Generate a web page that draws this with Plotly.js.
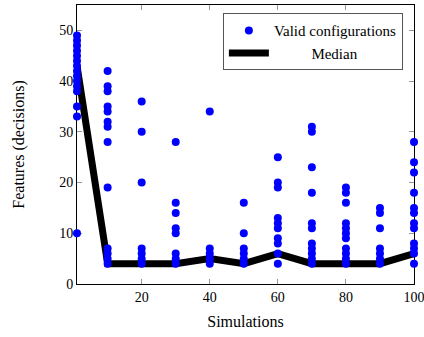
<!DOCTYPE html>
<html><head><meta charset="utf-8">
<script src="https://cdn.plot.ly/plotly-3.0.1.min.js"></script>
<style>body{margin:0;padding:0;background:#fff}#plot{width:424px;height:337px}</style>
</head><body><div id="plot"></div>
<script>
const simulations = [1, 10, 20, 30, 40, 50, 60, 70, 80, 90, 100];
const configValues = {
  1:   [10, 33, 35, 38, 39, 40, 41, 42, 43, 44, 45, 46, 47, 48, 49],
  10:  [4, 5, 6, 7, 19, 28, 31, 32, 34, 35, 38, 39, 42],
  20:  [4, 5, 6, 7, 20, 30, 36],
  30:  [4, 5, 6, 10, 11, 14, 16, 28],
  40:  [4, 5, 6, 7, 34],
  50:  [4, 5, 6, 7, 10, 16],
  60:  [4, 6, 8, 9, 11, 12, 13, 19, 20, 25],
  70:  [4, 5, 6, 7, 8, 11, 12, 18, 23, 30, 31],
  80:  [4, 5, 6, 7, 9, 10, 11, 12, 16, 18, 19],
  90:  [4, 5, 6, 7, 11, 14, 15],
  100: [4, 6, 7, 8, 11, 12, 14, 15, 18, 22, 24, 28]
};
const medianValues = [43, 4, 4, 4, 5, 4, 6, 4, 4, 4, 6];
const xTicks = [20, 40, 60, 80, 100];
const yTicks = [0, 10, 20, 30, 40, 50];

const px = [], py = [];
simulations.forEach(s => configValues[s].forEach(v => { px.push(s); py.push(v); }));

const font = 'Liberation Serif, Times New Roman, serif';
const pad = '\u00A0'.repeat(10);
const traces = [
  {x: simulations, y: medianValues, mode: 'lines', name: pad + 'Median',
   line: {color: '#000', width: 7}},
  {x: px, y: py, mode: 'markers', name: 'Valid configurations',
   marker: {color: '#0000FF', size: 8, opacity: 1, line: {width: 0}}, cliponaxis: false}
];
const axisCommon = {
  showgrid: false, zeroline: false, showline: true, linecolor: '#000', linewidth: 1,
  mirror: 'ticks', ticks: 'inside', ticklen: 5, tickcolor: '#999', tickwidth: 1,
  layer: 'below traces', ticklabeloverflow: 'allow',
  tickfont: {family: font, size: 14, color: '#000'}
};
const layout = {
  width: 424, height: 337,
  margin: {l: 77, r: 10, t: 5, b: 53},
  paper_bgcolor: '#fff', plot_bgcolor: '#fff',
  font: {family: font, color: '#000'},
  showlegend: true,
  legend: {x: 0.967, y: 0.97, xanchor: 'right', yanchor: 'top', traceorder: 'reversed',
    bordercolor: '#555', borderwidth: 1, bgcolor: '#fff', itemwidth: 40,
    font: {family: font, size: 15, color: '#000'}, tracegroupgap: 0},
  xaxis: Object.assign({}, axisCommon, {range: [1, 100], tickvals: xTicks,
    title: {text: 'Simulations', font: {family: font, size: 16}, standoff: 12}}),
  yaxis: Object.assign({}, axisCommon, {range: [0, 55], tickvals: yTicks,
    title: {text: 'Features (decisions)', font: {family: font, size: 16}, standoff: 30}})
};
Plotly.newPlot('plot', traces, layout, {displayModeBar: false, staticPlot: true});
</script></body></html>
